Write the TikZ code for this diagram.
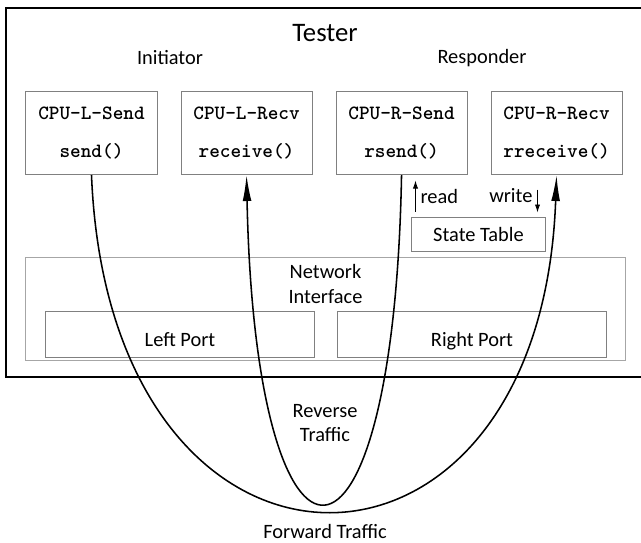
\documentclass[tikz,border=0pt]{standalone}
\usepackage{fontspec}
\setmainfont{Carlito}
\usetikzlibrary{arrows.meta, positioning, calc}

\begin{document}
\begin{tikzpicture}[
    x=0.025cm, y=-0.025cm,
    node distance=0.575cm,
    font=\fontsize{14.5}{17.4}\selectfont,
    cpu/.style={draw=gray, line width=0.7pt, minimum width=3.275cm, minimum height=2.075cm, align=center, inner sep=0pt, font=\fontsize{14.4}{27.6}\selectfont\ttfamily\bfseries},
    port/.style={draw=gray, line width=0.7pt, minimum width=6.72cm, inner sep=0pt, text height=0.875cm, text depth=0.275cm},
    frame/.style={draw, line width=1.5pt},
    traffic/.style={line width=1.1pt},
    rw/.style={-{Latex[length=2mm, width=1.3mm]}, line width=0.6pt},
    bigtip/.style={-{Latex[length=6.5mm, width=2.2mm]}}
]
\useasboundingbox (0,0) rectangle (641,542);

% Tester frame
\draw[frame] (6,8) rectangle (645,377);
\node[font=\fontsize{19}{23}\selectfont] (tester) at (325,33.5) {Tester};
\node (init) at (170,58) {Initiator};
\node (resp) at (482,58) {Responder};

% CPU boxes
\node[cpu] (lsend) at (91.5,133) {CPU-L-Send\\send()};
\node[cpu, right=of lsend] (lrecv) {CPU-L-Recv\\receive()};
\node[cpu, right=of lrecv] (rsend) {CPU-R-Send\\rsend()};
\node[cpu, right=of rsend] (rrecv) {CPU-R-Recv\\rreceive()};

% State table
\node[draw=gray, line width=0.7pt, minimum width=3.325cm, minimum height=0.85cm, inner sep=0pt] (table) at (478.5,234) {State Table};
\draw[rw] ($(table.north west)+(4,-5)$) -- ++(0,-31) node[right, midway] (read) {read};
\draw[rw] ($(table.north east)+(-8,-27)$) -- ++(0,23) node[left, pos=0.25] (write) {write};

% Network interface
\node[draw=gray!70, line width=0.7pt, minimum width=14.975cm, minimum height=2.575cm, inner sep=0pt] (net) at (325.5,308.5) {};
\node[align=center, anchor=north, inner sep=0pt] (nettext) at ([yshift=-5.5pt]net.north) {Network\\Interface};
\node[port] (lport) at (180,334) {Left Port};
\node[port] (rport) at (472,334) {Right Port};

% Traffic
\draw[traffic, bigtip] (lsend.south) .. controls +(18,446) and +(-16,446) .. (rrecv.south);
\draw[traffic, bigtip] (rsend.south) .. controls +(-8,436) and +(9,436) .. (lrecv.south);
\node[align=center] (rev) at (325,423) {Reverse\\Traffic};
\node (fwd) at (325,531) {Forward Traffic};

\end{tikzpicture}
\end{document}
